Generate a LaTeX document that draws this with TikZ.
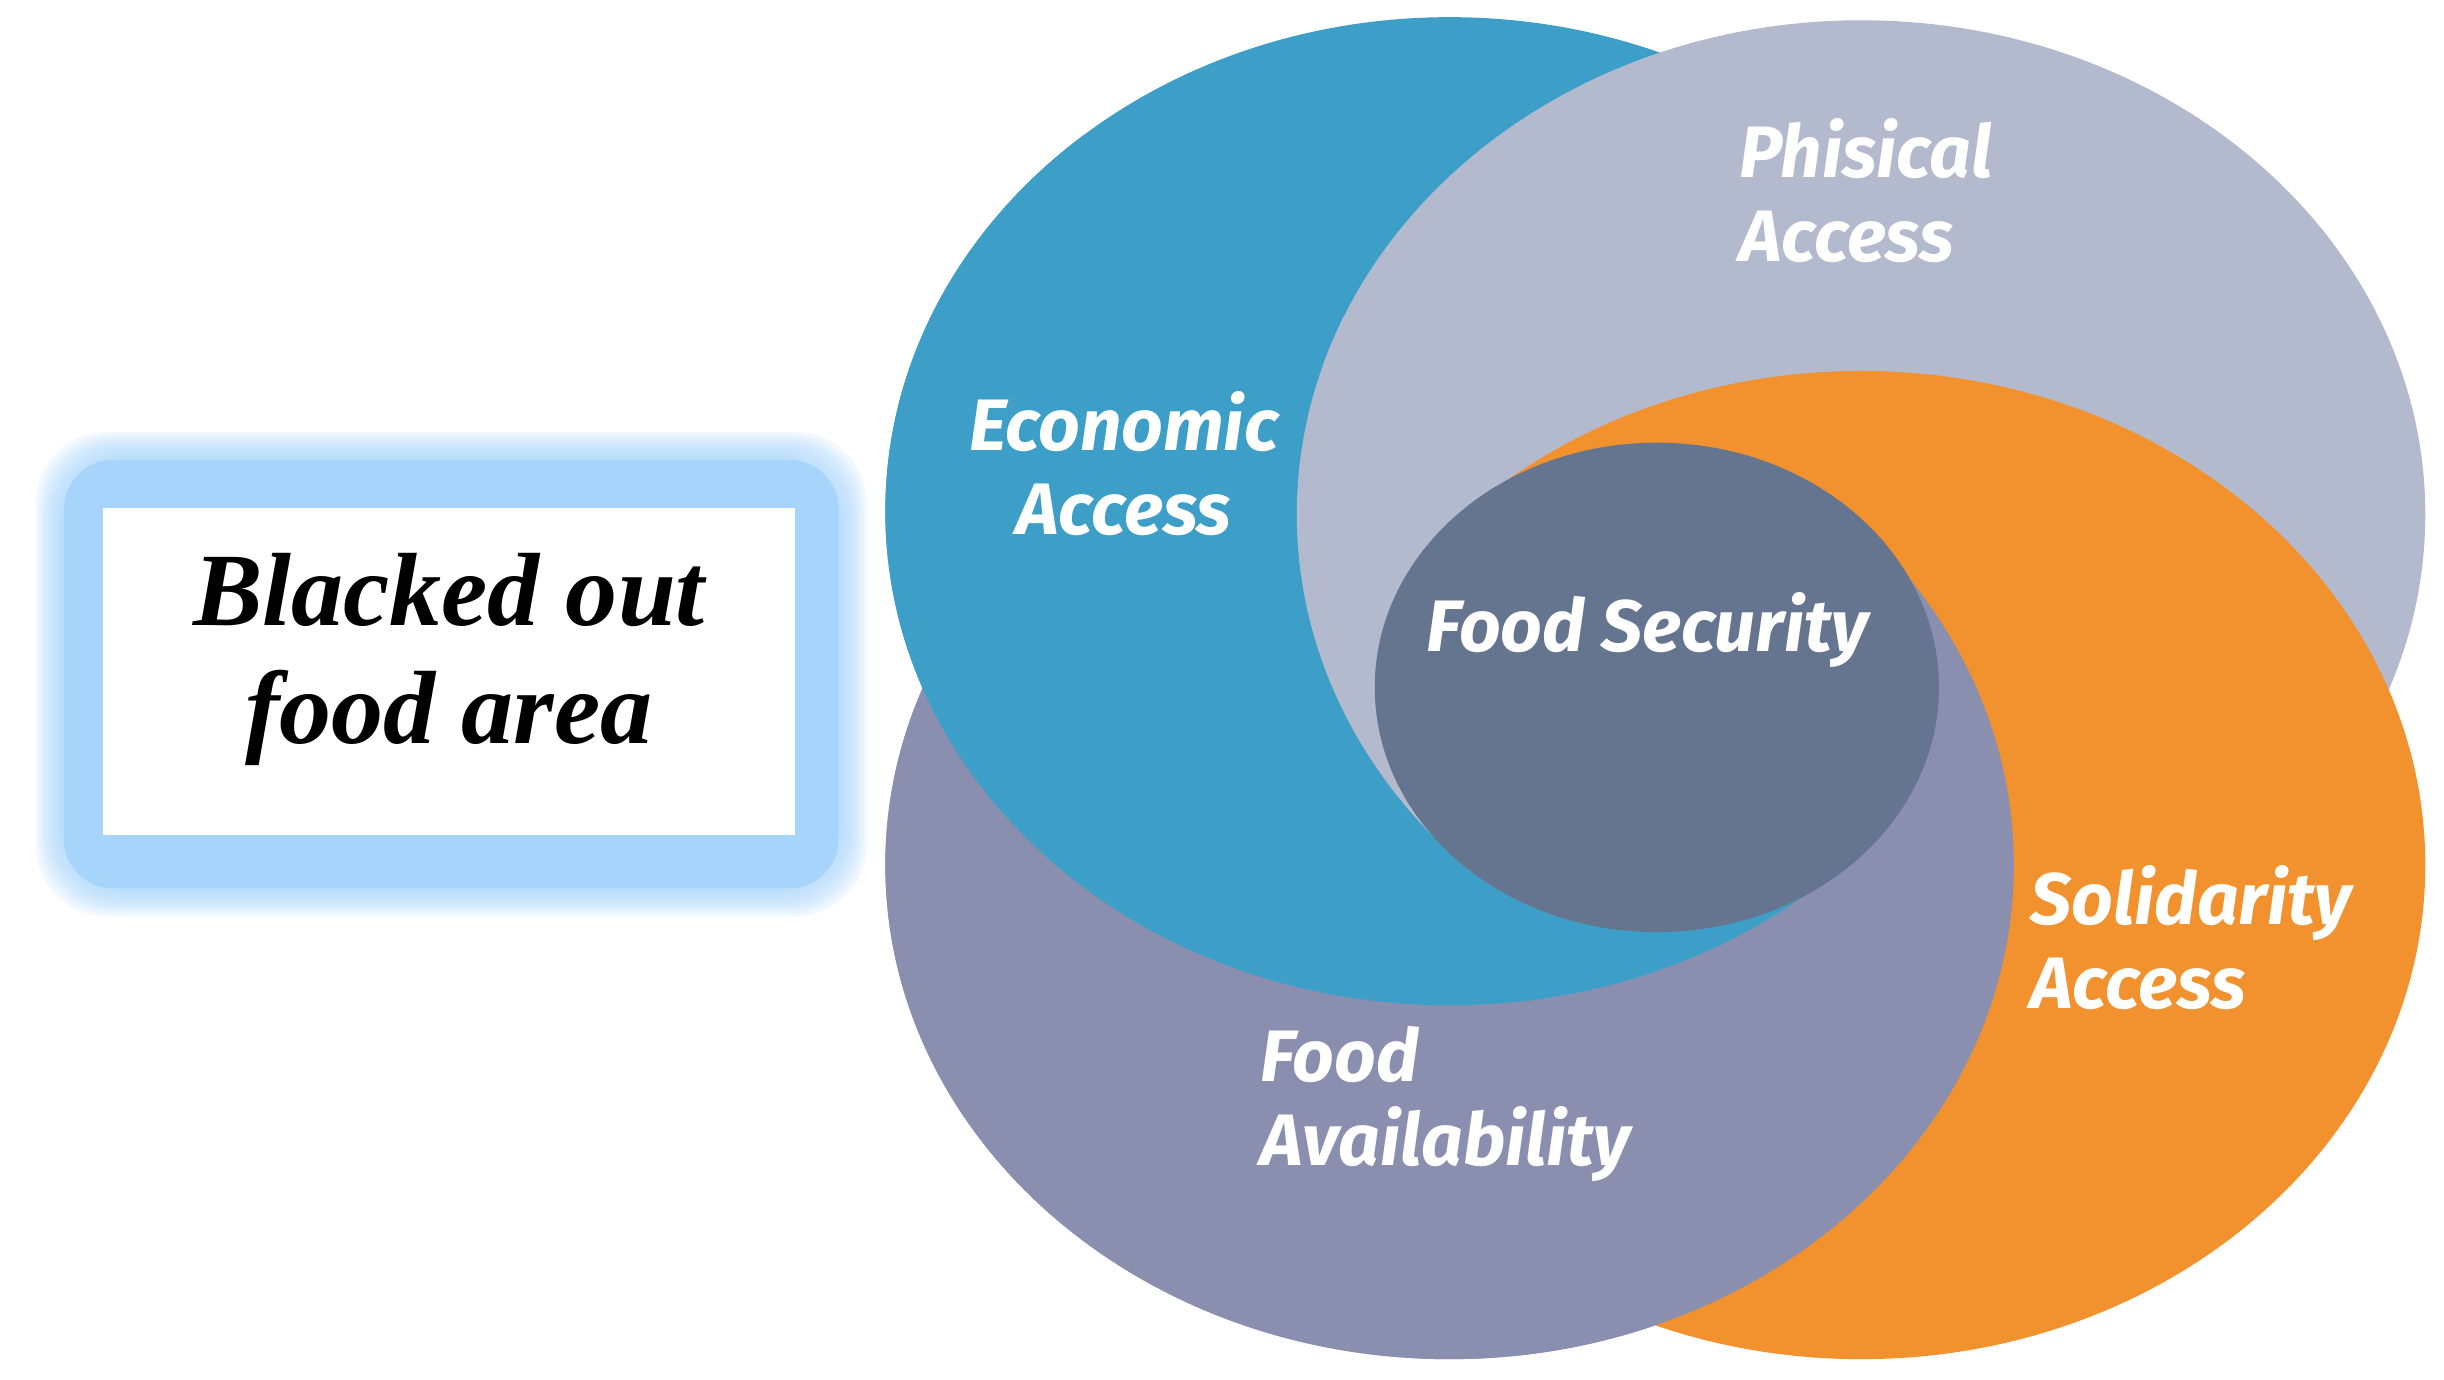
\documentclass[tikz,border=0pt]{standalone}
\usepackage{fontspec}
\setmainfont{Liberation Serif}
\newfontfamily\labfont{Fira Sans}
\definecolor{ecoblue}{RGB}{61,159,200}
\definecolor{phisgray}{RGB}{180,186,206}
\definecolor{solorange}{RGB}{241,146,47}
\definecolor{availpurple}{RGB}{138,143,176}
\definecolor{coreslate}{RGB}{101,117,143}
\definecolor{glowblue}{RGB}{166,212,250}
\tikzset{
  eblue/.style={insert path={(930,328) ellipse [x radius=362, y radius=317]}},
  egray/.style={insert path={(1194,330) ellipse [x radius=362, y radius=317]}},
  eorange/.style={insert path={(1194,555) ellipse [x radius=362, y radius=317]}},
  epurple/.style={insert path={(930,555) ellipse [x radius=362, y radius=317]}},
  lab/.style={text=white, font=\labfont\bfseries\itshape\fontsize{13.3}{15.4}\selectfont, inner sep=0pt, align=left},
  boxtext/.style={font=\bfseries\itshape\fontsize{19}{21.6}\selectfont, align=center, inner sep=0pt}
}
\begin{document}
\begin{tikzpicture}[x=0.1mm, y=-0.1mm]
\useasboundingbox (0,0) rectangle (1568,885);
\coordinate (C) at (1062,441);
% glow frame of the box
\foreach \i in {1,...,9}
  \fill[glowblue, opacity=0.15, rounded corners=13pt] (41-2*\i,295-2*\i) rectangle (538+2*\i,570+2*\i);
\fill[glowblue, rounded corners=9pt] (41,295) rectangle (538,570);
\node[fill=white, minimum width=44.4mm, minimum height=21mm, inner sep=0pt] (box) at (288,431) {};
\node[boxtext] (boxlabel) at (288,423) {Blacked out\\food area};
% base order (top of the pinwheel)
\fill[availpurple, epurple];
\fill[ecoblue, eblue];
\fill[phisgray, egray];
\fill[solorange, eorange];
% purple over orange on left, bottom and right
\begin{scope}
  \clip (C) -- (-87,-523) -- (-438,441) -- (98,1590) -- (1062,1941) -- (2211,1405) -- (2562,441) -- (2211,-523) -- cycle;
  \fill[availpurple, epurple];
\end{scope}
% blue over purple on left and bottom
\begin{scope}
  \clip (C) -- (-17,-601) -- (-438,441) -- (98,1590) -- (1062,1941) -- (2211,1405) -- cycle;
  \fill[ecoblue, eblue];
\end{scope}
% grey over blue on the left
\begin{scope}
  \clip (C) -- (98,-708) -- (-438,441) -- (1,1502) -- cycle;
  \fill[phisgray, egray];
\end{scope}
% centre
\fill[coreslate] (1063,441) ellipse [x radius=181, y radius=157];
\node[lab, anchor=base west] (phis) at (1115,168) {Phisical\\Access};
\node[lab, anchor=base, align=center] (econ) at (721,343) {Economic\\Access};
\node[lab, anchor=base] (core) at (1057,418) {Food Security};
\node[lab, anchor=base west] (soli) at (1302,647) {Solidarity\\Access};
\node[lab, anchor=base west] (avail) at (808,748) {Food\\Availability};
\end{tikzpicture}
\end{document}
